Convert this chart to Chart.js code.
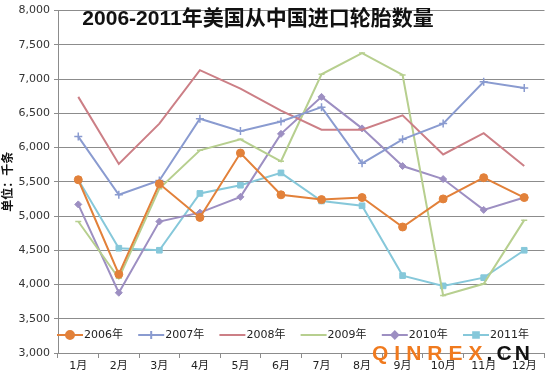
<!DOCTYPE html>
<html>
<head>
<meta charset="utf-8">
<script src="https://cdn.jsdelivr.net/npm/chart.js@4/dist/chart.umd.min.js"></script>
<style>
  body { margin: 0; background: #fff; }
  #wrap { width: 550px; height: 377px; position: relative; }
</style>
</head>
<body>
<div id="wrap"><canvas id="tyres"></canvas></div>
<script>
const months = ['1月', '2月', '3月', '4月', '5月', '6月', '7月', '8月', '9月', '10月', '11月', '12月'];
const y2006 = [5530, 4150, 5470, 4980, 5920, 5310, 5240, 5270, 4840, 5250, 5560, 5270];
const y2007 = [6160, 5310, 5520, 6420, 6240, 6380, 6590, 5770, 6120, 6350, 6960, 6870];
const y2008 = [6740, 5760, 6350, 7130, 6860, 6540, 6260, 6260, 6470, 5900, 6210, 5730];
const y2009 = [4920, 4090, 5400, 5960, 6120, 5800, 7070, 7380, 7060, 3840, 4010, 4940];
const y2010 = [5170, 3880, 4920, 5050, 5280, 6200, 6740, 6280, 5730, 5540, 5090, 5270];
const y2011 = [5530, 4530, 4500, 5330, 5450, 5630, 5220, 5150, 4130, 3980, 4100, 4500];
const seriesNames = ['2006年', '2007年', '2008年', '2009年', '2010年', '2011年'];
const chartTitle = '2006-2011年美国从中国进口轮胎数量';
const unitLabel = '单位：千条';

const cjk = '"DejaVu Sans", "Noto Sans CJK SC", sans-serif';

function series(label, data, color, style, radius) {
    return {
        label: label,
        data: data,
        borderColor: color,
        backgroundColor: color,
        borderWidth: 2,
        pointStyle: style,
        pointRadius: radius,
        pointBorderWidth: style === 'cross' || style === 'line' ? 1.5 : 1,
        tension: 0
    };
}

// title, legend and watermark sit inside the plot like the excel original
const overlay = {
    id: 'overlay',
    afterDraw(chart) {
        const c = chart.ctx;
        c.save();
        c.fillStyle = '#111';
        c.font = 'bold 21px "Liberation Sans", "Noto Sans CJK SC", sans-serif';
        c.textAlign = 'center';
        c.textBaseline = 'middle';
        c.fillText(chartTitle, 258, 19);

        // legend
        c.font = '11px ' + cjk;
        c.textAlign = 'left';
        chart.data.datasets.forEach(function(ds, i) {
            const x = 57 + i * 81.2;
            const y = 335;
            c.strokeStyle = ds.borderColor;
            c.lineWidth = 2;
            c.beginPath();
            c.moveTo(x, y);
            c.lineTo(x + 26, y);
            c.stroke();
            if (ds.pointStyle !== 'line') {
                c.fillStyle = ds.backgroundColor;
                Chart.helpers.drawPoint(c, {
                    pointStyle: ds.pointStyle,
                    radius: ds.pointRadius,
                    borderWidth: ds.pointBorderWidth
                }, x + 13, y);
            }
            c.fillStyle = '#222';
            c.fillText(ds.label, x + 27, y);
        });

        // watermark
        c.font = 'bold 21px "Liberation Sans", sans-serif';
        let wx = 372;
        'QINREX'.split('').forEach(function(ch) {
            c.fillStyle = '#f07a1e';
            c.fillText(ch, wx, 354);
            wx += c.measureText(ch).width + 6;
        });
        c.fillStyle = '#111';
        c.fillText('.', wx - 2, 354);
        wx += 8;
        c.fillText('C', wx, 354);
        wx += c.measureText('C').width + 3;
        c.fillText('N', wx, 354);
        c.restore();
    }
};

new Chart(document.getElementById('tyres'), {
    type: 'line',
    data: {
        labels: months,
        datasets: [
            series(seriesNames[0], y2006, '#e2813a', 'circle', 4),
            series(seriesNames[1], y2007, '#8a9bd0', 'cross', 4),
            series(seriesNames[2], y2008, '#cc7f86', 'line', 0),
            series(seriesNames[3], y2009, '#b7cf8f', 'line', 3),
            series(seriesNames[4], y2010, '#9d8fc2', 'rectRot', 3.5),
            series(seriesNames[5], y2011, '#86c8da', 'rect', 4)
        ]
    },
    options: {
        responsive: true,
        maintainAspectRatio: false,
        animation: false,
        layout: { padding: { top: 0, right: 1, left: 0, bottom: 0 } },
        plugins: {
            legend: { display: false },
            title: { display: false },
            tooltip: { enabled: false }
        },
        scales: {
            x: {
                offset: true,
                grid: { drawOnChartArea: false, drawTicks: true, tickLength: 5, offset: true, color: '#8c8c8c' },
                border: { color: '#8c8c8c', width: 1 },
                ticks: { color: '#222', font: { size: 11, family: cjk }, padding: 2, maxRotation: 0 },
                afterFit: function(scale) { scale.height = 24; }
            },
            y: {
                min: 3000,
                max: 8000,
                ticks: { stepSize: 500, color: '#333', font: { size: 11, family: cjk }, padding: 4 },
                grid: { color: '#8c8c8c', tickLength: 4 },
                border: { color: '#8c8c8c', width: 1 },
                title: {
                    display: true,
                    text: unitLabel,
                    color: '#111',
                    font: { size: 12, weight: 'bold', family: cjk },
                    padding: { top: 2, bottom: 0 }
                },
                afterFit: function(scale) { scale.width = 58; }
            }
        }
    },
    plugins: [overlay]
});
</script>
</body>
</html>
